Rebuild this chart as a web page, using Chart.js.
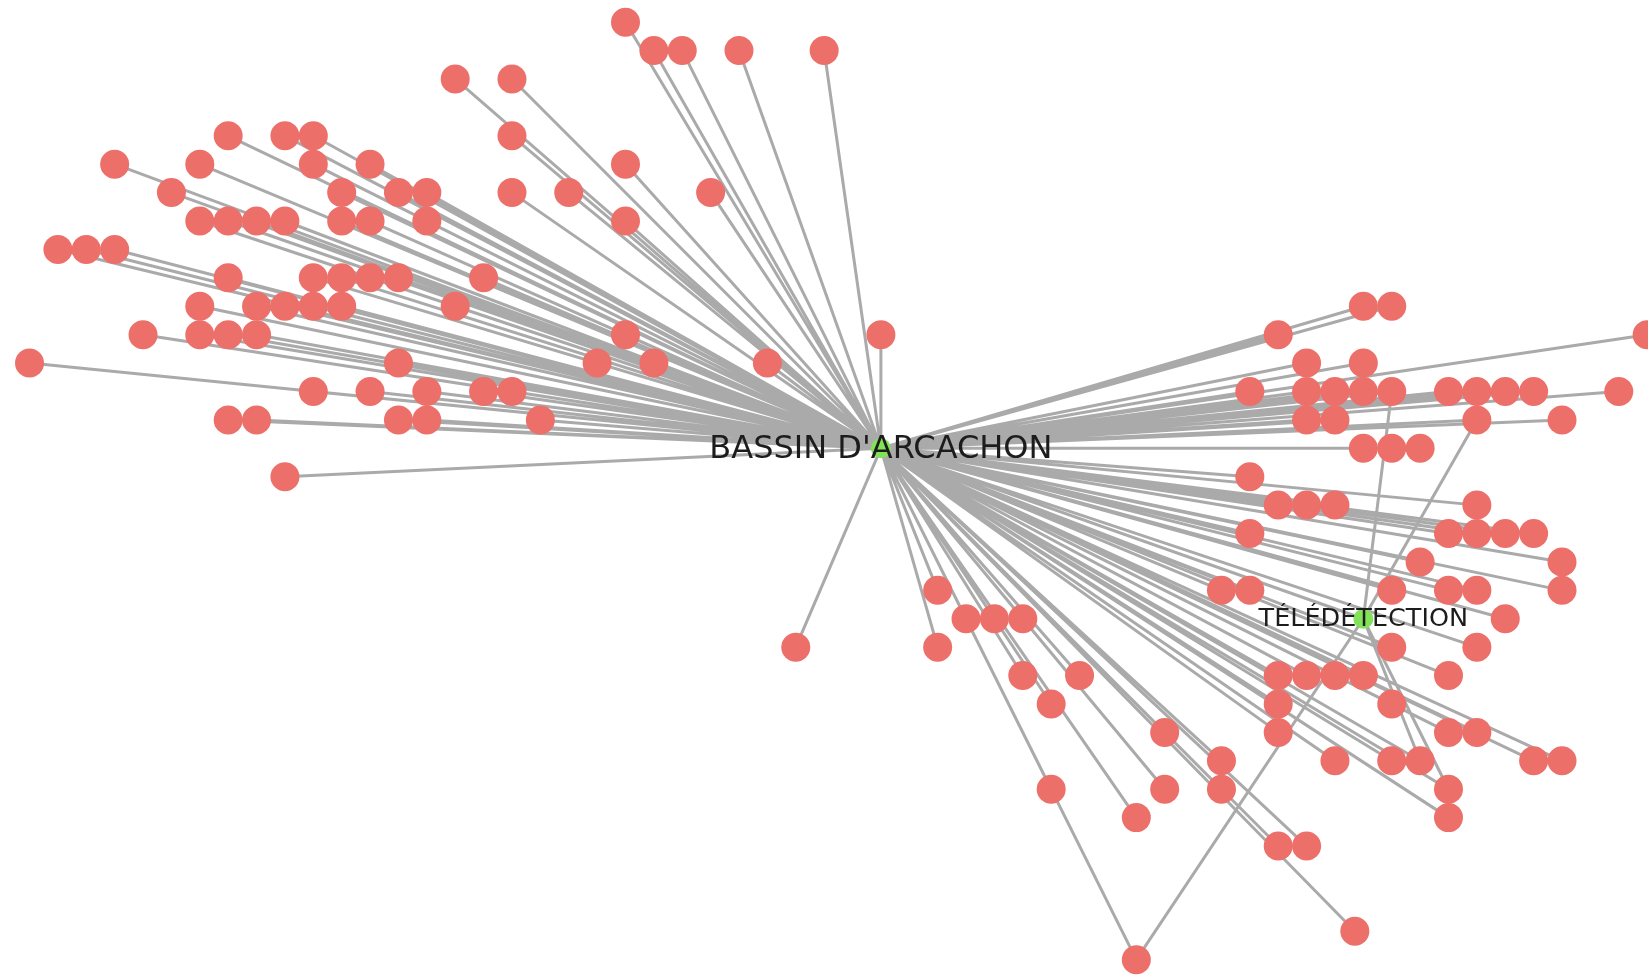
<!DOCTYPE html>
<html>
<head>
<meta charset="utf-8">
<script src="https://cdn.jsdelivr.net/npm/chart.js@4.4.1/dist/chart.umd.min.js"></script>
<style>
  html, body { margin: 0; padding: 0; background: #fff; overflow: hidden; }
  #wrap { width: 1648px; height: 977px; position: relative; }
</style>
</head>
<body>
<div id="wrap"><canvas id="graph"></canvas></div>
<script>
// hubs (labelled, green)
var hubNames = ["BASSIN D'ARCACHON", "TÉLÉDÉTECTION"];
var hubX = [31, 48];
var hubY = [15, 21];

// other nodes (red), layout grid positions, all linked to BASSIN D'ARCACHON
var nodeX = [22, 23,24,26,29, 16,18, 8,10,11,18, 4,7,11,13,22,
  6,12,14,15,18,20,25, 7,8,9,10,12,13,15,22, 2,3,4,
  8,11,12,13,14,17, 7,9,10,11,12,16,48,49,
  5,7,8,9,22,31,45,58, 1,14,21,23,27,46,48,
  11,13,15,17,18,44,46,47,48,49,51,52,53,54,57,
  8,9,14,15,19,46,47,52,55, 48,49,50, 10,44,
  45,46,47,52, 44,51,52,53,54, 50,55,
  33,43,44,49,51,52,55, 34,35,36,53, 28,33,49,52,
  36,38,45,46,47,48,51, 37,45,49, 41,45,51,52,
  43,47,49,50,54,55, 37,41,43,51, 40,51, 45,46, 47.7, 40];
var nodeY = [0, 1,1,1,1, 2,2, 4,4,4,4, 5,5,5,5,5,
  6,6,6,6,6,6,6, 7,7,7,7,7,7,7,7, 8,8,8,
  9,9,9,9,9,9, 10,10,10,10,10,10,10,10,
  11,11,11,11,11,11,11,11, 12,12,12,12,12,12,12,
  13,13,13,13,13,13,13,13,13,13,13,13,13,13,13,
  14,14,14,14,14,14,14,14,14, 15,15,15, 16,16,
  17,17,17,17, 18,18,18,18,18, 19,19,
  20,20,20,20,20,20,20, 21,21,21,21, 22,22,22,22,
  23,23,23,23,23,23,23, 24,24,24, 25,25,25,25,
  26,26,26,26,26,26, 27,27,27,27, 28,28, 29,29, 32, 33];

// nodes also linked to TÉLÉDÉTECTION
var teleX = [49, 52, 40, 50, 51];
var teleY = [13, 14, 33, 26, 27];

var edges = [];
function addEdge(x1, y1, x2, y2) {
  edges.push({x: x1, y: y1});
  edges.push({x: x2, y: y2});
  edges.push({x: x2, y: null});
}
for (var i = 0; i < nodeX.length; i++) {
  addEdge(hubX[0], hubY[0], nodeX[i], nodeY[i]);
}
addEdge(hubX[0], hubY[0], hubX[1], hubY[1]);
for (var k = 0; k < teleX.length; k++) {
  addEdge(hubX[1], hubY[1], teleX[k], teleY[k]);
}

var nodes = nodeX.map(function (x, i) { return {x: x, y: nodeY[i]}; });
var hubs = hubX.map(function (x, i) { return {x: x, y: hubY[i]}; });

var hubLabels = {
  id: 'hubLabels',
  afterDatasetsDraw: function (chart) {
    var ctx = chart.ctx;
    var sx = chart.scales.x, sy = chart.scales.y;
    var sizes = [32, 25.5];
    ctx.save();
    ctx.fillStyle = '#1c1c1c';
    ctx.textAlign = 'center';
    ctx.textBaseline = 'middle';
    hubNames.forEach(function (name, i) {
      ctx.font = sizes[i] + 'px "DejaVu Sans"';
      ctx.fillText(name, sx.getPixelForValue(hubX[i]), sy.getPixelForValue(hubY[i]) + 1);
    });
    ctx.restore();
  }
};

var graph = new Chart(document.getElementById('graph'), {
  type: 'scatter',
  data: {
    datasets: [{
      label: 'liens',
      data: edges,
      showLine: true,
      spanGaps: false,
      borderColor: '#aaaaaa',
      borderWidth: 3,
      pointRadius: 0,
      order: 3
    }, {
      label: 'mots',
      data: nodes,
      pointRadius: 14.5,
      backgroundColor: '#ec6f6a',
      borderWidth: 0,
      order: 2
    }, {
      label: 'hubs',
      data: hubs,
      pointRadius: 10,
      backgroundColor: '#82e25a',
      borderWidth: 0,
      order: 1
    }]
  },
  options: {
    responsive: true,
    maintainAspectRatio: false,
    animation: false,
    events: [],
    layout: { padding: 0, autoPadding: false },
    plugins: { legend: { display: false }, tooltip: { enabled: false } },
    scales: {
      x: { type: 'linear', min: -0.04, max: 58.03, display: false },
      y: { type: 'linear', reverse: true, min: -0.78, max: 33.61, display: false }
    }
  },
  plugins: [hubLabels]
});
</script>
</body>
</html>
